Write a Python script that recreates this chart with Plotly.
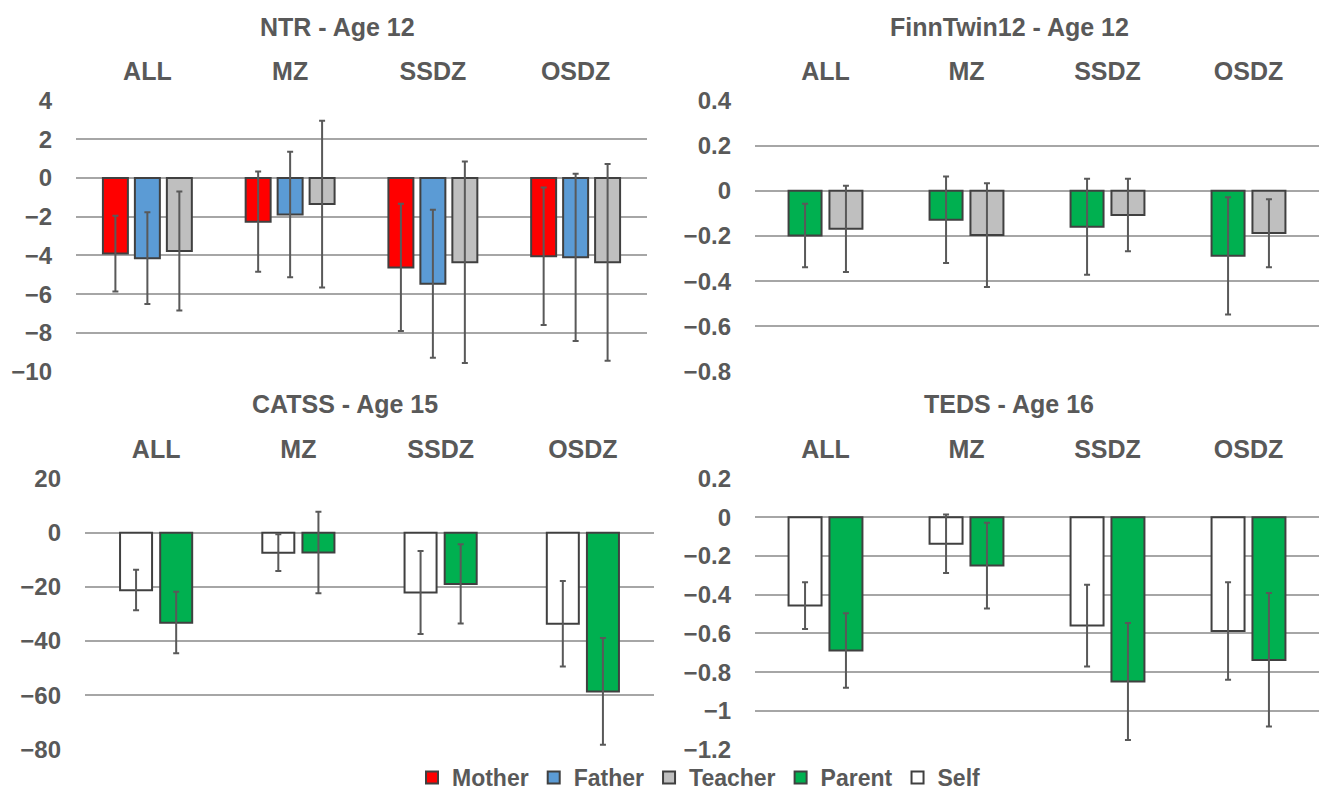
import plotly.graph_objects as go

W, H = 1319, 792

groups = ["ALL", "MZ", "SSDZ", "OSDZ"]

# NTR - Age 12 (values, lower CI, upper CI)
ntr_mother = [-3.9, -2.26, -4.62, -4.05]
ntr_mother_lo = [-5.86, -4.85, -7.9, -7.59]
ntr_mother_hi = [-1.95, 0.33, -1.34, -0.50]
ntr_father = [-4.15, -1.89, -5.47, -4.10]
ntr_father_lo = [-6.51, -5.13, -9.29, -8.42]
ntr_father_hi = [-1.78, 1.35, -1.65, 0.21]
ntr_teacher = [-3.77, -1.35, -4.36, -4.36]
ntr_teacher_lo = [-6.84, -5.66, -9.56, -9.44]
ntr_teacher_hi = [-0.70, 2.95, 0.84, 0.72]

# FinnTwin12 - Age 12
finn_parent = [-0.198, -0.128, -0.159, -0.287]
finn_parent_lo = [-0.338, -0.319, -0.371, -0.547]
finn_parent_hi = [-0.057, 0.063, 0.053, -0.028]
finn_teacher = [-0.168, -0.196, -0.107, -0.187]
finn_teacher_lo = [-0.359, -0.426, -0.268, -0.338]
finn_teacher_hi = [0.022, 0.034, 0.053, -0.037]

# CATSS - Age 15
catss_self = [-21.2, -7.35, -22.1, -33.6]
catss_self_lo = [-28.6, -14.1, -37.4, -49.4]
catss_self_hi = [-13.7, -0.6, -6.7, -17.8]
catss_parent = [-33.2, -7.3, -18.9, -58.6]
catss_parent_lo = [-44.5, -22.3, -33.5, -78.3]
catss_parent_hi = [-21.8, 7.7, -4.3, -38.9]

# TEDS - Age 16
teds_self = [-0.456, -0.138, -0.56, -0.588]
teds_self_lo = [-0.577, -0.289, -0.771, -0.840]
teds_self_hi = [-0.336, 0.014, -0.349, -0.336]
teds_parent = [-0.689, -0.25, -0.848, -0.737]
teds_parent_lo = [-0.881, -0.472, -1.150, -1.081]
teds_parent_hi = [-0.496, -0.029, -0.546, -0.392]

COLORS = {"Mother": "#FF0000", "Father": "#5B9BD5", "Teacher": "#BFBFBF",
          "Parent": "#00B050", "Self": "#FFFFFF"}
TXT = "#595959"
FONT = "Arial, Liberation Sans, sans-serif"

fig = go.Figure()
shown = set()


def add(name, vals, lo, hi, axis, center, width):
    show = name not in shown
    shown.add(name)
    fig.add_trace(go.Bar(
        x=groups, y=vals, name=name, legendgroup=name, showlegend=show,
        xaxis="x" + axis, yaxis="y" + axis,
        width=width, offset=center - width / 2,
        marker=dict(color=COLORS[name], line=dict(color="#404040", width=2)),
        error_y=dict(type="data", symmetric=False,
                     array=[h - v for h, v in zip(hi, vals)],
                     arrayminus=[v - l for v, l in zip(vals, lo)],
                     color=TXT, thickness=2, width=3),
    ))


add("Mother", ntr_mother, ntr_mother_lo, ntr_mother_hi, "", -0.224, 0.175)
add("Father", ntr_father, ntr_father_lo, ntr_father_hi, "", 0.0, 0.175)
add("Teacher", ntr_teacher, ntr_teacher_lo, ntr_teacher_hi, "", 0.224, 0.175)
add("Parent", finn_parent, finn_parent_lo, finn_parent_hi, "2", -0.145, 0.234)
add("Teacher", finn_teacher, finn_teacher_lo, finn_teacher_hi, "2", 0.145, 0.234)
add("Self", catss_self, catss_self_lo, catss_self_hi, "3", -0.141, 0.225)
add("Parent", catss_parent, catss_parent_lo, catss_parent_hi, "3", 0.141, 0.225)
add("Self", teds_self, teds_self_lo, teds_self_hi, "4", -0.145, 0.234)
add("Parent", teds_parent, teds_parent_lo, teds_parent_hi, "4", 0.145, 0.234)

top_dom = [1 - 372 / H, 1 - 100 / H]
bot_dom = [1 - 750 / H, 1 - 478 / H]
xdoms = {"": [76 / W, 647 / W], "2": [755 / W, 1.0],
         "3": [85 / W, 654 / W], "4": [755 / W, 1.0]}
ydoms = {"": top_dom, "2": top_dom, "3": bot_dom, "4": bot_dom}
yranges = {"": ([-10.02, 4.02], 2), "2": ([-0.802, 0.402], 0.2),
           "3": ([-80.2, 20.2], 20), "4": ([-1.202, 0.202], 0.2)}

layout_axes = {}
for k in ["", "2", "3", "4"]:
    layout_axes["xaxis" + k] = dict(
        domain=xdoms[k], anchor="y" + k, type="category",
        categoryorder="array", categoryarray=groups, range=[-0.5, 3.5],
        side="top", showgrid=False, zeroline=False, showline=False, ticks="",
        ticklabelstandoff=14, automargin=False, fixedrange=True,
        tickfont=dict(family=FONT, size=25, color=TXT, weight="bold"),
    )
    rng, dt = yranges[k]
    layout_axes["yaxis" + k] = dict(
        domain=ydoms[k], anchor="x" + k, range=rng, tick0=0, dtick=dt,
        showgrid=True, gridcolor="#A6A6A6", gridwidth=2, zeroline=False,
        showline=False, ticks="", ticklabelstandoff=23, automargin=False,
        fixedrange=True,
        tickfont=dict(family=FONT, size=24, color=TXT, weight="bold"),
    )

titles = [("NTR - Age 12", 337, 27), ("FinnTwin12 - Age 12", 1009, 27),
          ("CATSS - Age 15", 345, 404), ("TEDS - Age 16", 1009, 404)]
annotations = [dict(text=t, x=px / W, y=1 - py / H, xref="paper", yref="paper",
                    xanchor="center", yanchor="middle", showarrow=False,
                    font=dict(family=FONT, size=25, color=TXT, weight="bold"))
               for t, px, py in titles]

fig.update_layout(
    template="none",
    width=W, height=H, margin=dict(l=0, r=0, t=0, b=0, autoexpand=False),
    paper_bgcolor="white", plot_bgcolor="white",
    barmode="overlay", annotations=annotations, hovermode=False,
    legend=dict(orientation="h", x=699 / W, y=-7 / H, xanchor="center",
                yanchor="bottom", font=dict(family=FONT, size=23, color=TXT,
                                            weight="bold"),
                itemwidth=30, tracegroupgap=0, bgcolor="rgba(0,0,0,0)"),
    **layout_axes,
)

fig.write_html("out.html", config={"displayModeBar": False},
               post_script="document.body.style.margin='0';"
                           "document.body.style.overflow='hidden';")
